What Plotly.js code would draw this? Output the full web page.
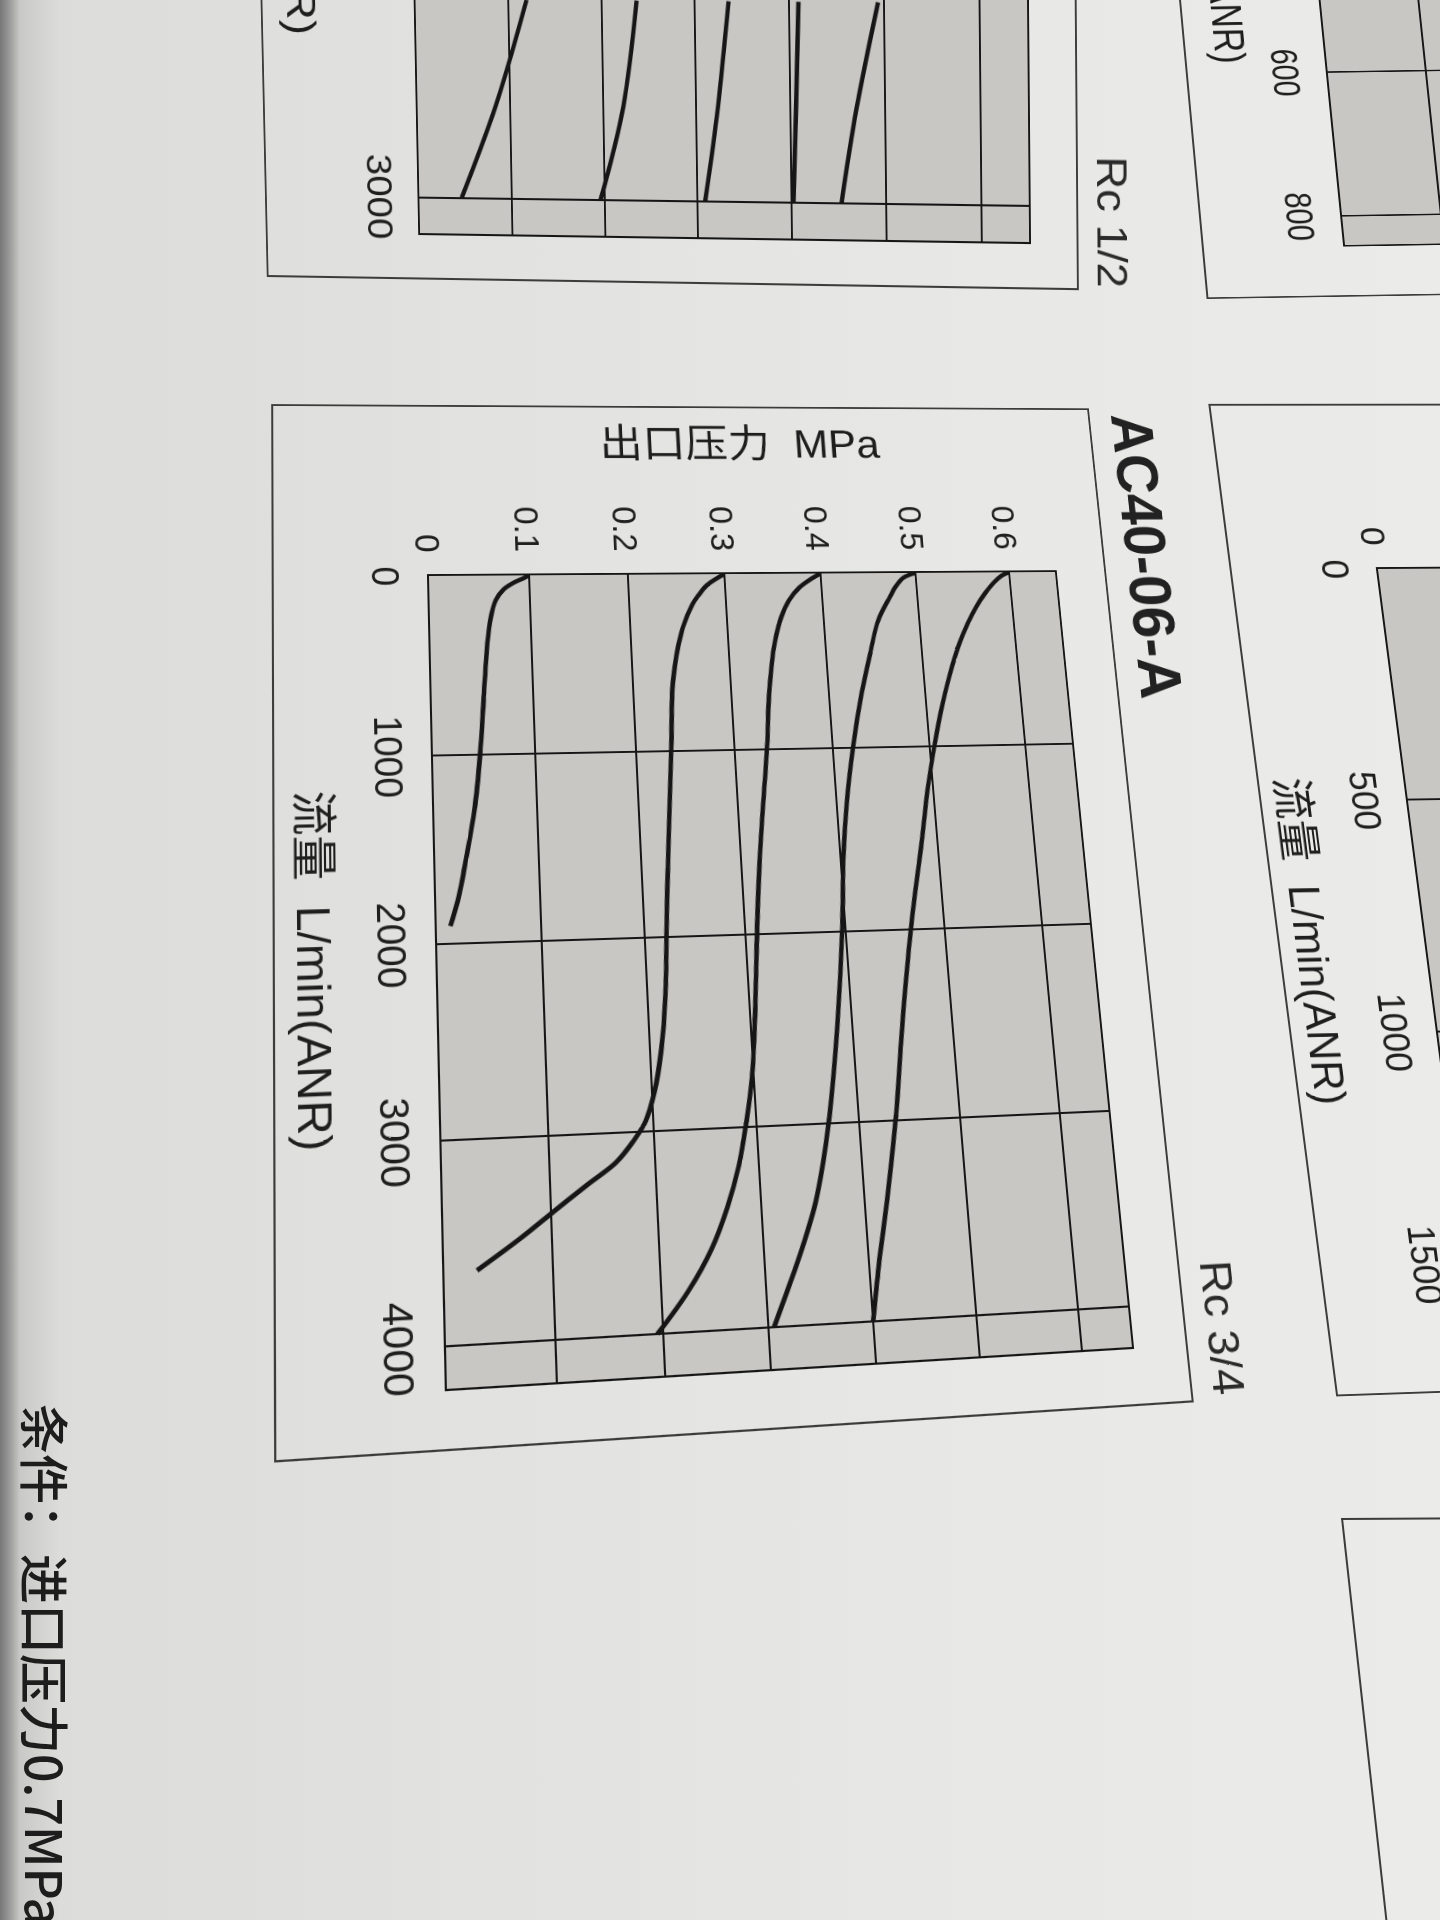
<!DOCTYPE html>
<html>
<head>
<meta charset="utf-8">
<script src="https://cdn.plot.ly/plotly-3.0.1.min.js"></script>
<style>
  html, body { margin: 0; padding: 0; width: 1440px; height: 1920px; overflow: hidden; }
  #page {
    position: absolute; left: 0; top: 0; width: 1440px; height: 1920px;
    background: linear-gradient(90deg, #777 0px, #9c9c9c 10px, #c9c9c7 20px, #dcdcda 60px, #e2e2e0 500px, #e8e8e6 1000px, #ebebea 1440px);
  }
  .sheet { position: absolute; left: 0; top: 0; transform-origin: 0 0; }
  #boxCorner {
    position: absolute; left: 1341px; top: 1518px; width: 300px; height: 500px;
    border-left: 2px solid #3c3c3c; border-top: 2px solid #3c3c3c;
    transform-origin: 0 0; transform: skewX(6.3deg) skewY(-0.3deg);
  }
  #cond {
    position: absolute; left: 76px; top: 1404px; transform-origin: 0 0; transform: rotate(90deg);
    font-family: "Noto Sans CJK SC", sans-serif; font-size: 50px; font-weight: 500; color: #1d1d1d;
    white-space: nowrap; line-height: 58px;
  }
</style>
</head>
<body>
<div id="page"></div>
<div id="boxCorner"></div>
<div id="chartRc12" class="sheet"></div>
<div id="chartUpperRight" class="sheet"></div>
<div id="chartRight" class="sheet"></div>
<div id="chartRc34" class="sheet"></div>
<div id="cond">条件：进口压力0.7MPa</div>
<script>
// ---------- AC40-06-A (Rc 3/4): flow (L/min ANR) vs outlet pressure (MPa) ----------
const flowRange = [0, 4200];
const pressureRange = [0, 0.65];
const flowTicks = [0, 1000, 2000, 3000, 4000];
const flowTickText = ['0', '1000', '2000', '3000', '4000'];
const pressureTicks = [0, 0.1, 0.2, 0.3, 0.4, 0.5, 0.6];
const pressureTickText = ['0', '0.1', '0.2', '0.3', '0.4', '0.5', '0.6'];

const flowSet01 = [0, 15, 40, 80, 140, 250, 450, 700, 1000, 1300, 1550, 1750, 1910];
const outletSet01 = [0.100, 0.095, 0.085, 0.074, 0.066, 0.060, 0.055, 0.051, 0.046, 0.039, 0.030, 0.022, 0.013];

const flowSet03 = [0, 20, 64, 120, 174, 338, 612, 978, 1527, 1892, 2300, 2600, 2800, 2950, 3050, 3150, 3250, 3376, 3500, 3645];
const outletSet03 = [0.300, 0.293, 0.281, 0.272, 0.265, 0.252, 0.241, 0.236, 0.228, 0.223, 0.218, 0.211, 0.203, 0.193, 0.180, 0.163, 0.136, 0.103, 0.071, 0.030];

const flowSet04 = [0, 30, 80, 155, 250, 430, 700, 978, 1527, 1892, 2400, 2750, 3000, 3200, 3400, 3600, 3800, 4000];
const outletSet04 = [0.400, 0.390, 0.377, 0.365, 0.356, 0.346, 0.338, 0.333, 0.320, 0.313, 0.305, 0.298, 0.289, 0.280, 0.267, 0.250, 0.226, 0.195];

const flowSet05 = [0, 28, 80, 141, 274, 462, 689, 991, 1311, 1594, 1972, 2500, 3000, 3200, 3400, 3600, 3800, 4000];
const outletSet05 = [0.500, 0.487, 0.478, 0.471, 0.457, 0.446, 0.434, 0.421, 0.410, 0.403, 0.397, 0.385, 0.370, 0.362, 0.352, 0.338, 0.322, 0.305];

const flowSet06 = [0, 20, 60, 120, 200, 300, 420, 600, 800, 1000, 1250, 1500, 2000, 2500, 3000, 3400, 3730, 4000];
const outletSet06 = [0.600, 0.592, 0.583, 0.573, 0.562, 0.551, 0.540, 0.527, 0.515, 0.505, 0.494, 0.485, 0.466, 0.450, 0.436, 0.422, 0.409, 0.400];

// ---------- Rc 1/2 chart (only the lower end of its curves is on the sheet) ----------
const flowRangeRc12 = [0, 3140];
const flowTicksRc12 = [0, 1000, 2000, 3000];
const flowTickTextRc12 = ['', '', '', '3000'];
const flowTailRc12 = [2230, 2638, 3000];
const outletTailRc12a = [0.120, 0.085, 0.046];
const outletTailRc12b = [0.238, 0.222, 0.196];
const outletTailRc12c = [0.336, 0.323, 0.308];
const outletTailRc12d = [0.410, 0.406, 0.402];
const outletTailRc12e = [0.494, 0.470, 0.453];

// ---------- Smaller-flow charts at the right edge of the sheet ----------
const flowRangeRight = [0, 1600];
const flowTicksRight = [0, 500, 1000, 1500];
const flowTickTextRight = ['0', '500', '1000', '1500'];
const flowRangeUpperRight = [0, 840];
const flowTicksUpperRight = [0, 200, 400, 600, 800];
const flowTickTextUpperRight = ['', '', '', '600', '800'];

// pressure labels of the side charts: only the origin label lies on the sheet
const pressureTickTextOriginOnly = ['0', '', '', '', '', '', ''];
const pressureTickTextNone = ['', '', '', '', '', '', ''];

// Unrotated figure geometry: plot box position and size in px
const W = 1100, H = 1000, L = 200, T = 140, PW = 795, PH = 655;
const ink = '#161616';
const latin = 'Liberation Sans, Arial, Noto Sans CJK SC, sans-serif';
const flowTitle = '流量  L/min(ANR)';
const pressureTitle = '出口压力  MPa';

function curve(fx, py) {
  return {
    type: 'scatter', mode: 'lines', x: fx, y: py,
    line: { color: ink, width: 4.6, shape: 'spline', smoothing: 1 },
    hoverinfo: 'skip'
  };
}

function baseLayout(o) {
  return {
    width: W, height: H,
    margin: { l: L, r: W - L - PW, t: T, b: H - T - PH, pad: 0 },
    paper_bgcolor: 'rgba(0,0,0,0)',
    plot_bgcolor: '#c8c7c4',
    showlegend: false,
    font: { family: latin, color: '#1e1e1e' },
    xaxis: {
      range: o.xr, tickvals: o.xt, ticktext: o.xtt,
      ticks: '', showgrid: true, gridcolor: ink, gridwidth: 2,
      zeroline: false, showline: true, mirror: true, linecolor: ink, linewidth: 2,
      tickfont: { size: 38, family: latin }, ticklabelstandoff: 9,
      title: { text: o.xTitle || '', font: { size: 45, family: latin }, standoff: 38 },
      fixedrange: true
    },
    yaxis: {
      range: pressureRange, tickvals: pressureTicks, ticktext: o.ytt,
      ticks: '', showgrid: true, gridcolor: ink, gridwidth: 2,
      zeroline: false, showline: true, mirror: true, linecolor: ink, linewidth: 2,
      tickfont: { size: 36, family: latin }, ticklabelstandoff: 16,
      title: { text: o.yTitle || '', font: { size: 45, family: latin }, standoff: 40 },
      fixedrange: true
    },
    shapes: [{
      type: 'rect', xref: 'paper', yref: 'paper', layer: 'below',
      x0: o.frame[0] / PW, x1: 1 + o.frame[1] / PW, y0: o.frame[2] / PH, y1: 1 + o.frame[3] / PH,
      line: { color: '#3c3c3c', width: 2 }, fillcolor: 'rgba(0,0,0,0)'
    }],
    annotations: o.notes || []
  };
}

function flowTitleNote(xPaper, yOffset) {
  return {
    text: flowTitle, xref: 'paper', yref: 'paper', x: xPaper, y: -yOffset / PH,
    xanchor: 'right', yanchor: 'middle', showarrow: false,
    font: { size: 45, family: latin, color: '#1e1e1e' }
  };
}

// Projective map from the unrotated plot box onto the page
function solveHomography(src, dst) {
  const A = [], b = [];
  for (let i = 0; i < 4; i++) {
    const [u, v] = src[i], [x, y] = dst[i];
    A.push([u, v, 1, 0, 0, 0, -u * x, -v * x]); b.push(x);
    A.push([0, 0, 0, u, v, 1, -u * y, -v * y]); b.push(y);
  }
  const n = 8;
  for (let c = 0; c < n; c++) {
    let p = c;
    for (let r = c + 1; r < n; r++) if (Math.abs(A[r][c]) > Math.abs(A[p][c])) p = r;
    [A[c], A[p]] = [A[p], A[c]]; [b[c], b[p]] = [b[p], b[c]];
    for (let r = c + 1; r < n; r++) {
      const f = A[r][c] / A[c][c];
      for (let k = c; k < n; k++) A[r][k] -= f * A[c][k];
      b[r] -= f * b[c];
    }
  }
  const h = new Array(n);
  for (let r = n - 1; r >= 0; r--) {
    let s = b[r];
    for (let k = r + 1; k < n; k++) s -= A[r][k] * h[k];
    h[r] = s / A[r][r];
  }
  return h;
}

const plotCorners = [[L, T + PH], [L + PW, T + PH], [L, T], [L + PW, T]];

function place(id, pageCorners) {
  const h = solveHomography(plotCorners, pageCorners);
  const m = [h[0], h[3], 0, h[6], h[1], h[4], 0, h[7], 0, 0, 1, 0, h[2], h[5], 0, 1];
  document.getElementById(id).style.transform = 'matrix3d(' + m.join(',') + ')';
}

const cfg = { staticPlot: true, displayModeBar: false };

// Main chart: AC40-06-A
const mainTraces = [
  curve(flowSet01, outletSet01), curve(flowSet03, outletSet03), curve(flowSet04, outletSet04),
  curve(flowSet05, outletSet05), curve(flowSet06, outletSet06)
];
Plotly.newPlot('chartRc34', mainTraces, baseLayout({
  xr: flowRange, xt: flowTicks, xtt: flowTickText, ytt: pressureTickText,
  xTitle: flowTitle, yTitle: pressureTitle, frame: [-187, 54, -155, 55],
  notes: [
    {
      text: '<b>AC40-06-A</b>', xref: 'paper', yref: 'paper',
      x: -183 / PW, y: 1 + 64 / PH, xanchor: 'left', yanchor: 'bottom',
      showarrow: false, font: { size: 64, family: latin, color: '#222' }
    },
    {
      text: 'Rc 3/4', xref: 'paper', yref: 'paper',
      x: 1 + 52 / PW, y: 1 + 66 / PH, xanchor: 'right', yanchor: 'bottom',
      showarrow: false, font: { size: 44, family: latin, color: '#2a2a2a' }
    }
  ]
}), cfg).then(() => place('chartRc34', [[429, 576], [447, 1389], [1055, 572], [1132, 1347]]));

// Rc 1/2 chart above it
const rc12Traces = [
  curve(flowTailRc12, outletTailRc12a), curve(flowTailRc12, outletTailRc12b),
  curve(flowTailRc12, outletTailRc12c), curve(flowTailRc12, outletTailRc12d),
  curve(flowTailRc12, outletTailRc12e)
];
Plotly.newPlot('chartRc12', rc12Traces, baseLayout({
  xr: flowRangeRc12, xt: flowTicksRc12, xtt: flowTickTextRc12, ytt: pressureTickTextNone,
  frame: [-187, 45, -169, 51],
  notes: [
    {
      text: 'Rc 1/2', xref: 'paper', yref: 'paper',
      x: 1 + 45 / PW, y: 1 + 61 / PH, xanchor: 'right', yanchor: 'bottom',
      showarrow: false, font: { size: 44, family: latin, color: '#2a2a2a' }
    },
    flowTitleNote(0.758, 125)
  ]
}), cfg).then(() => place('chartRc12', [[404, -583], [420, 233], [1022, -590], [1029, 242]]));

// Chart to the right of the main one (only its flow axis side is on the sheet)
Plotly.newPlot('chartRight', [], baseLayout({
  xr: flowRangeRight, xt: flowTicksRight, xtt: flowTickTextRight, ytt: pressureTickTextOriginOnly,
  xTitle: flowTitle, frame: [-177, 86, -150, 55]
}), cfg).then(() => place('chartRight', [[1378, 569], [1474, 1310], [2004, 565], [2100, 1290]]));

// Chart in the upper right corner
Plotly.newPlot('chartUpperRight', [], baseLayout({
  xr: flowRangeUpperRight, xt: flowTicksUpperRight, xtt: flowTickTextUpperRight, ytt: pressureTickTextNone,
  frame: [-187, 66, -145, 55], notes: [flowTitleNote(0.70, 98)]
}), cfg).then(() => place('chartUpperRight', [[1286, -347], [1345, 245], [1906, -355], [1985, 235]]));
</script>
</body>
</html>
